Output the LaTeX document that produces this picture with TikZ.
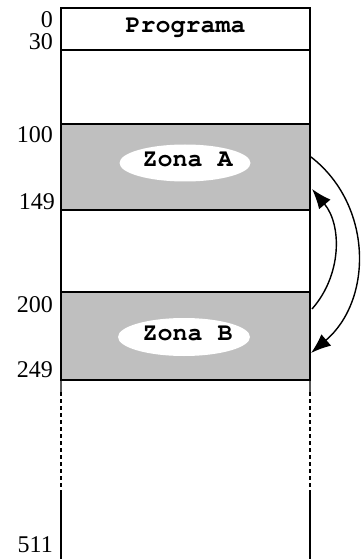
\documentclass[tikz,border=0pt]{standalone}
\usepackage[T1]{fontenc}
\usepackage{fontspec}
\setmainfont{Liberation Serif}
\newcommand{\courb}{\fontencoding{T1}\fontfamily{pcr}\fontseries{b}\fontshape{n}\fontsize{25bp}{28bp}\selectfont}
\usetikzlibrary{arrows.meta,shapes.geometric}
\begin{document}
\begin{tikzpicture}[x=1bp,y=-1bp,
  mem/.style={draw,line width=1.4bp,minimum width=249bp,inner sep=0pt,outer sep=0pt},
  zone/.style={mem,fill=black!25},
  oval/.style={ellipse,fill=white,inner sep=0pt,minimum width=131bp,minimum height=37bp},
  lbl/.style={anchor=base east,inner sep=0pt,font=\fontsize{24bp}{28bp}\selectfont},
  tt/.style={inner sep=0pt,font=\courb},
  conn/.style={line width=1.4bp,-{Latex[length=20bp,width=15bp]}},
  side/.style={line width=1.4bp}]
\useasboundingbox (0,0) rectangle (361,559);
% memory blocks
\node[mem,minimum height=42bp] (prog) at (185.5,29) {};
\node[mem,minimum height=74bp] (free1) at (185.5,87) {};
\node[zone,minimum height=86bp] (za) at (185.5,167) {};
\node[mem,minimum height=82bp] (free2) at (185.5,251) {};
\node[zone,minimum height=88bp] (zb) at (185.5,336) {};
% texts
\node[tt,anchor=base] (tprog) at (185.5,33) {Programa};
\node[oval] (oa) at (185,163) {};
\node[tt,anchor=base] (ta) at (187.5,167) {Zona A};
\node[oval,minimum width=132bp,minimum height=38bp] (ob) at (184,337) {};
\node[tt,anchor=base] (tb) at (187.5,340) {Zona B};
% lower part of memory
\coordinate (l1) at (61,392); \coordinate (l2) at (61,493); \coordinate (l3) at (61,559);
\coordinate (r1) at (310,392); \coordinate (r2) at (310,493); \coordinate (r3) at (310,559);
\draw[side] (zb.south west) -- (l1);
\draw[side,dash pattern=on 4bp off 3bp] (l1) -- (l2);
\draw[side] (l2) -- (l3);
\draw[side] (zb.south east) -- (r1);
\draw[side,dash pattern=on 4bp off 3bp] (r1) -- (r2);
\draw[side] (r2) -- (r3);
% addresses
\node[lbl] (a0) at (53,28) {0};
\node[lbl] (a30) at (53,50) {30};
\node[lbl] (a100) at (53,143) {100};
\node[lbl] (a149) at (55,210) {149};
\node[lbl] (a200) at (53,312) {200};
\node[lbl] (a249) at (53,377) {249};
\node[lbl] (a511) at (53,552) {511};
% arrows
\coordinate (aout) at (311,157);
\coordinate (ain) at (312,189);
\coordinate (bout) at (312,309);
\coordinate (bin) at (311,353);
\draw[conn] (aout) .. controls (373,205) and (373,300) .. (bin);
\draw[conn] (bout) .. controls (342,275) and (342,225) .. (ain);
\end{tikzpicture}
\end{document}
